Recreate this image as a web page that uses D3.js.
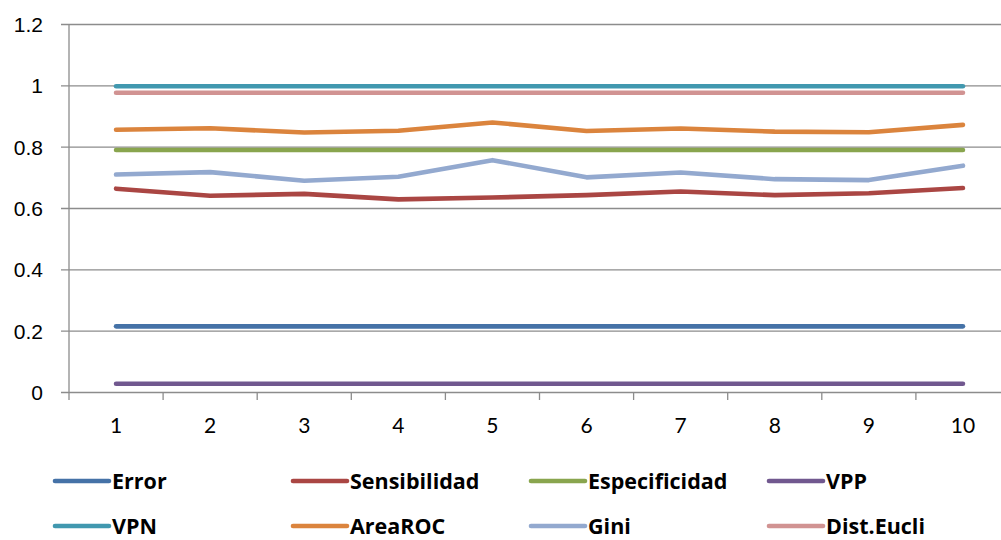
<!DOCTYPE html>
<html>
<head>
<meta charset="utf-8">
<script src="https://cdn.jsdelivr.net/npm/d3@7/dist/d3.min.js"></script>
<style>
  html, body { margin: 0; padding: 0; background: #fff; }
  svg { display: block; font-family: Lato, "Open Sans", "Noto Sans", sans-serif; }
</style>
</head>
<body>
<svg id="chart" width="1001" height="540"></svg>
<script>
// Run numbers on the x axis
const categories = ["1", "2", "3", "4", "5", "6", "7", "8", "9", "10"];

// Metric values per run
const error         = [0.214, 0.214, 0.214, 0.214, 0.214, 0.214, 0.214, 0.214, 0.214, 0.214];
const sensibilidad  = [0.663, 0.640, 0.646, 0.628, 0.634, 0.642, 0.654, 0.642, 0.648, 0.665];
const especificidad = [0.789, 0.789, 0.789, 0.789, 0.789, 0.789, 0.789, 0.789, 0.789, 0.789];
const vpp           = [0.027, 0.027, 0.027, 0.027, 0.027, 0.027, 0.027, 0.027, 0.027, 0.027];
const vpn           = [0.997, 0.997, 0.997, 0.997, 0.997, 0.997, 0.997, 0.997, 0.997, 0.997];
const areaROC       = [0.855, 0.860, 0.846, 0.852, 0.879, 0.851, 0.859, 0.849, 0.847, 0.871];
const gini          = [0.709, 0.717, 0.689, 0.702, 0.756, 0.700, 0.716, 0.694, 0.691, 0.738];
const distEucli     = [0.976, 0.976, 0.976, 0.976, 0.976, 0.976, 0.976, 0.976, 0.976, 0.976];

const seriesNames  = ["Error", "Sensibilidad", "Especificidad", "VPP", "VPN", "AreaROC", "Gini", "Dist.Eucli"];
const seriesValues = [error, sensibilidad, especificidad, vpp, vpn, areaROC, gini, distEucli];
const seriesColors = ["#4572A7", "#AA4643", "#89A54E", "#71588F", "#4198AF", "#DB843D", "#93A9CF", "#D19392"];

const yTicks = [0, 0.2, 0.4, 0.6, 0.8, 1, 1.2];

const svg = d3.select("#chart");
const plot = { left: 69, right: 1010, top: 24, bottom: 392 };

const x = d3.scaleBand().domain(categories).range([plot.left, plot.right]).padding(0);
const y = d3.scaleLinear().domain([0, 1.2]).range([plot.bottom, plot.top]);

const gridColor = "#8c8c8c";

// Horizontal gridlines with small outer ticks
const yAxis = d3.axisLeft(y)
  .tickValues(yTicks)
  .tickFormat(d => d3.format("")(+d.toFixed(1)))
  .tickSizeInner(-(plot.right - plot.left))
  .tickSizeOuter(0)
  .tickPadding(26);

const gy = svg.append("g")
  .attr("transform", `translate(${plot.left},0)`)
  .call(yAxis);
gy.select(".domain").remove();
gy.selectAll(".tick line")
  .attr("x1", -8)
  .attr("stroke", gridColor)
  .attr("stroke-width", 1.3);
gy.selectAll(".tick text")
  .attr("fill", "#000")
  .attr("font-size", 21)
  .attr("dy", "0.35em");

// Vertical axis line
svg.append("line")
  .attr("x1", plot.left).attr("x2", plot.left)
  .attr("y1", plot.top).attr("y2", plot.bottom + 8)
  .attr("stroke", gridColor)
  .attr("stroke-width", 1.3);

// Category axis: ticks between bands, labels at centres
const boundaries = categories.slice(1).map(c => x(c));
svg.append("g").selectAll("line")
  .data(boundaries)
  .join("line")
  .attr("x1", d => d).attr("x2", d => d)
  .attr("y1", plot.bottom).attr("y2", plot.bottom + 8)
  .attr("stroke", gridColor)
  .attr("stroke-width", 1.3);

svg.append("g").selectAll("text")
  .data(categories)
  .join("text")
  .attr("x", d => x(d) + x.bandwidth() / 2)
  .attr("y", 433)
  .attr("text-anchor", "middle")
  .attr("font-size", 21)
  .attr("fill", "#000")
  .text(d => d);

// Series lines
const line = d3.line()
  .x((d, i) => x(categories[i]) + x.bandwidth() / 2)
  .y(d => y(d));

svg.append("g").selectAll("path")
  .data(seriesValues)
  .join("path")
  .attr("d", d => line(d))
  .attr("fill", "none")
  .attr("stroke", (d, i) => seriesColors[i])
  .attr("stroke-width", 4.6)
  .attr("stroke-linecap", "round")
  .attr("stroke-linejoin", "round");

// Legend: two rows of four
const legend = svg.append("g").selectAll("g")
  .data(seriesNames)
  .join("g")
  .attr("transform", (d, i) => `translate(${55 + (i % 4) * 238},${i < 4 ? 481 : 526})`);

legend.append("line")
  .attr("x1", 0).attr("x2", 54)
  .attr("y1", 0).attr("y2", 0)
  .attr("stroke", (d, i) => seriesColors[i])
  .attr("stroke-width", 4.6)
  .attr("stroke-linecap", "round");

legend.append("text")
  .attr("x", 57)
  .attr("y", 0)
  .attr("dy", "0.35em")
  .attr("font-family", "'Open Sans', Lato, sans-serif")
  .attr("font-size", 21.5)
  .attr("font-weight", "bold")
  .attr("fill", "#000")
  .text(d => d);
</script>
</body>
</html>
